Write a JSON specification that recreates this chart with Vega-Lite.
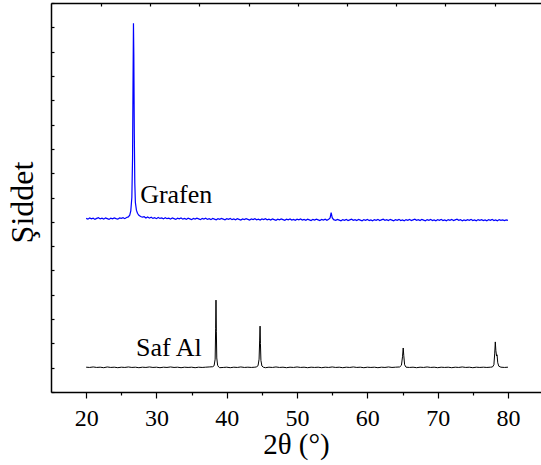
{
  "$schema": "https://vega.github.io/schema/vega-lite/v6.json",
  "width": 490,
  "height": 389,
  "autosize": {"type": "none"},
  "padding": {"left": 51, "top": 3, "right": 0, "bottom": 73},
  "config": {
    "view": {"stroke": null},
    "axis": {"domainColor": "#000000", "tickColor": "#000000", "domainWidth": 1.5, "tickWidth": 1.2, "grid": false, "labelColor": "#000000", "titleColor": "#000000", "titleFontWeight": "normal", "labelFontWeight": "normal", "labelFont": "Times New Roman", "titleFont": "Times New Roman"}
  },
  "datasets": {
    "grafen": [
      {"theta":20.0,"I":714},{"theta":20.25,"I":711},{"theta":20.5,"I":716},{"theta":20.75,"I":712},{"theta":21.0,"I":715},{"theta":21.25,"I":710},{"theta":21.5,"I":714},{"theta":21.75,"I":717},{"theta":22.0,"I":712},{"theta":22.25,"I":715},{"theta":22.5,"I":711},{"theta":22.75,"I":716},{"theta":23.0,"I":713},{"theta":23.25,"I":710},{"theta":23.5,"I":715},{"theta":23.75,"I":712},{"theta":24.0,"I":716},{"theta":24.25,"I":713},{"theta":24.5,"I":711},{"theta":24.75,"I":716},{"theta":25.0,"I":714},{"theta":25.25,"I":717},{"theta":25.5,"I":713},{"theta":25.75,"I":718},{"theta":26.0,"I":720},{"theta":26.2,"I":727},{"theta":26.35,"I":745},{"theta":26.5,"I":800},{"theta":26.6,"I":960},{"theta":26.67,"I":1280},{"theta":26.73,"I":1517},{"theta":26.78,"I":1390},{"theta":26.85,"I":1060},{"theta":26.92,"I":860},{"theta":27.0,"I":780},{"theta":27.15,"I":748},{"theta":27.3,"I":735},{"theta":27.5,"I":727},{"theta":27.75,"I":722},{"theta":28.0,"I":719},{"theta":28.25,"I":721},{"theta":28.5,"I":716},{"theta":28.75,"I":720},{"theta":29.0,"I":715},{"theta":29.25,"I":719},{"theta":29.5,"I":714},{"theta":29.75,"I":717},{"theta":30.0,"I":713},{"theta":30.25,"I":718},{"theta":30.5,"I":714},{"theta":30.75,"I":716},{"theta":31.0,"I":712},{"theta":31.25,"I":717},{"theta":31.5,"I":713},{"theta":31.75,"I":715},{"theta":32.0,"I":711},{"theta":32.25,"I":716},{"theta":32.5,"I":713},{"theta":32.75,"I":710},{"theta":33.0,"I":715},{"theta":33.25,"I":712},{"theta":33.5,"I":716},{"theta":33.75,"I":711},{"theta":34.0,"I":714},{"theta":34.25,"I":710},{"theta":34.5,"I":715},{"theta":34.75,"I":712},{"theta":35.0,"I":709},{"theta":35.25,"I":714},{"theta":35.5,"I":711},{"theta":35.75,"I":715},{"theta":36.0,"I":712},{"theta":36.25,"I":709},{"theta":36.5,"I":714},{"theta":36.75,"I":711},{"theta":37.0,"I":715},{"theta":37.25,"I":710},{"theta":37.5,"I":713},{"theta":37.75,"I":709},{"theta":38.0,"I":714},{"theta":38.25,"I":711},{"theta":38.5,"I":708},{"theta":38.75,"I":713},{"theta":39.0,"I":710},{"theta":39.25,"I":714},{"theta":39.5,"I":711},{"theta":39.75,"I":708},{"theta":40.0,"I":713},{"theta":40.25,"I":710},{"theta":40.5,"I":714},{"theta":40.75,"I":709},{"theta":41.0,"I":712},{"theta":41.25,"I":708},{"theta":41.5,"I":713},{"theta":41.75,"I":710},{"theta":42.0,"I":707},{"theta":42.25,"I":712},{"theta":42.5,"I":709},{"theta":42.75,"I":713},{"theta":43.0,"I":710},{"theta":43.25,"I":707},{"theta":43.5,"I":712},{"theta":43.75,"I":709},{"theta":44.0,"I":713},{"theta":44.25,"I":708},{"theta":44.5,"I":711},{"theta":44.75,"I":707},{"theta":45.0,"I":712},{"theta":45.25,"I":709},{"theta":45.5,"I":713},{"theta":45.75,"I":708},{"theta":46.0,"I":711},{"theta":46.25,"I":707},{"theta":46.5,"I":712},{"theta":46.75,"I":709},{"theta":47.0,"I":706},{"theta":47.25,"I":711},{"theta":47.5,"I":708},{"theta":47.75,"I":712},{"theta":48.0,"I":709},{"theta":48.25,"I":706},{"theta":48.5,"I":711},{"theta":48.75,"I":708},{"theta":49.0,"I":712},{"theta":49.25,"I":707},{"theta":49.5,"I":710},{"theta":49.75,"I":706},{"theta":50.0,"I":711},{"theta":50.25,"I":708},{"theta":50.5,"I":712},{"theta":50.75,"I":707},{"theta":51.0,"I":710},{"theta":51.25,"I":706},{"theta":51.5,"I":711},{"theta":51.75,"I":708},{"theta":52.0,"I":705},{"theta":52.25,"I":710},{"theta":52.5,"I":707},{"theta":52.75,"I":711},{"theta":53.0,"I":708},{"theta":53.25,"I":705},{"theta":53.5,"I":710},{"theta":53.75,"I":707},{"theta":54.0,"I":711},{"theta":54.25,"I":706},{"theta":54.5,"I":710},{"theta":54.7,"I":716},{"theta":54.85,"I":738},{"theta":55.0,"I":717},{"theta":55.2,"I":709},{"theta":55.5,"I":706},{"theta":55.75,"I":710},{"theta":56.0,"I":707},{"theta":56.25,"I":704},{"theta":56.5,"I":709},{"theta":56.75,"I":706},{"theta":57.0,"I":710},{"theta":57.25,"I":705},{"theta":57.5,"I":708},{"theta":57.75,"I":711},{"theta":58.0,"I":706},{"theta":58.25,"I":709},{"theta":58.5,"I":705},{"theta":58.75,"I":710},{"theta":59.0,"I":707},{"theta":59.25,"I":704},{"theta":59.5,"I":709},{"theta":59.75,"I":706},{"theta":60.0,"I":710},{"theta":60.25,"I":705},{"theta":60.5,"I":708},{"theta":60.75,"I":704},{"theta":61.0,"I":709},{"theta":61.25,"I":706},{"theta":61.5,"I":710},{"theta":61.75,"I":705},{"theta":62.0,"I":708},{"theta":62.25,"I":711},{"theta":62.5,"I":706},{"theta":62.75,"I":709},{"theta":63.0,"I":705},{"theta":63.25,"I":710},{"theta":63.5,"I":707},{"theta":63.75,"I":704},{"theta":64.0,"I":709},{"theta":64.25,"I":706},{"theta":64.5,"I":710},{"theta":64.75,"I":705},{"theta":65.0,"I":708},{"theta":65.25,"I":704},{"theta":65.5,"I":709},{"theta":65.75,"I":706},{"theta":66.0,"I":710},{"theta":66.25,"I":705},{"theta":66.5,"I":708},{"theta":66.75,"I":711},{"theta":67.0,"I":706},{"theta":67.25,"I":709},{"theta":67.5,"I":705},{"theta":67.75,"I":710},{"theta":68.0,"I":707},{"theta":68.25,"I":704},{"theta":68.5,"I":709},{"theta":68.75,"I":706},{"theta":69.0,"I":710},{"theta":69.25,"I":705},{"theta":69.5,"I":708},{"theta":69.75,"I":704},{"theta":70.0,"I":709},{"theta":70.25,"I":706},{"theta":70.5,"I":710},{"theta":70.75,"I":705},{"theta":71.0,"I":708},{"theta":71.25,"I":704},{"theta":71.5,"I":709},{"theta":71.75,"I":706},{"theta":72.0,"I":710},{"theta":72.25,"I":705},{"theta":72.5,"I":708},{"theta":72.75,"I":711},{"theta":73.0,"I":706},{"theta":73.25,"I":709},{"theta":73.5,"I":704},{"theta":73.75,"I":708},{"theta":74.0,"I":705},{"theta":74.25,"I":709},{"theta":74.5,"I":706},{"theta":74.75,"I":710},{"theta":75.0,"I":705},{"theta":75.25,"I":708},{"theta":75.5,"I":704},{"theta":75.75,"I":709},{"theta":76.0,"I":706},{"theta":76.25,"I":709},{"theta":76.5,"I":705},{"theta":76.75,"I":708},{"theta":77.0,"I":704},{"theta":77.25,"I":709},{"theta":77.5,"I":706},{"theta":77.75,"I":710},{"theta":78.0,"I":705},{"theta":78.25,"I":708},{"theta":78.5,"I":704},{"theta":78.75,"I":709},{"theta":79.0,"I":706},{"theta":79.25,"I":708},{"theta":79.5,"I":705},{"theta":79.75,"I":708},{"theta":80.0,"I":706}
    ],
    "al": [
      {"theta":20.0,"I":102},{"theta":20.5,"I":101},{"theta":21.0,"I":103},{"theta":21.5,"I":101},{"theta":22.0,"I":102},{"theta":22.5,"I":100},{"theta":23.0,"I":103},{"theta":23.5,"I":101},{"theta":24.0,"I":102},{"theta":24.5,"I":100},{"theta":25.0,"I":102},{"theta":25.5,"I":101},{"theta":26.0,"I":103},{"theta":26.5,"I":101},{"theta":27.0,"I":102},{"theta":27.5,"I":100},{"theta":28.0,"I":102},{"theta":28.5,"I":101},{"theta":29.0,"I":103},{"theta":29.5,"I":101},{"theta":30.0,"I":102},{"theta":30.5,"I":100},{"theta":31.0,"I":102},{"theta":31.5,"I":101},{"theta":32.0,"I":103},{"theta":32.5,"I":101},{"theta":33.0,"I":102},{"theta":33.5,"I":100},{"theta":34.0,"I":102},{"theta":34.5,"I":101},{"theta":35.0,"I":102},{"theta":35.5,"I":100},{"theta":36.0,"I":102},{"theta":36.5,"I":101},{"theta":37.0,"I":102},{"theta":37.5,"I":103},{"theta":38.0,"I":104},{"theta":38.2,"I":108},{"theta":38.35,"I":135},{"theta":38.42,"I":260},{"theta":38.47,"I":378},{"theta":38.52,"I":250},{"theta":38.58,"I":140},{"theta":38.7,"I":110},{"theta":38.85,"I":103},{"theta":39.0,"I":100},{"theta":39.5,"I":101},{"theta":40.0,"I":102},{"theta":40.5,"I":100},{"theta":41.0,"I":102},{"theta":41.5,"I":101},{"theta":42.0,"I":103},{"theta":42.5,"I":101},{"theta":43.0,"I":102},{"theta":43.5,"I":101},{"theta":44.0,"I":102},{"theta":44.2,"I":103},{"theta":44.45,"I":108},{"theta":44.6,"I":135},{"theta":44.68,"I":210},{"theta":44.74,"I":271},{"theta":44.79,"I":200},{"theta":44.86,"I":130},{"theta":45.0,"I":107},{"theta":45.2,"I":102},{"theta":45.5,"I":100},{"theta":46.0,"I":102},{"theta":46.5,"I":101},{"theta":47.0,"I":103},{"theta":47.5,"I":101},{"theta":48.0,"I":102},{"theta":48.5,"I":100},{"theta":49.0,"I":102},{"theta":49.5,"I":101},{"theta":50.0,"I":103},{"theta":50.5,"I":101},{"theta":51.0,"I":102},{"theta":51.5,"I":100},{"theta":52.0,"I":102},{"theta":52.5,"I":101},{"theta":53.0,"I":102},{"theta":53.5,"I":100},{"theta":54.0,"I":102},{"theta":54.5,"I":101},{"theta":55.0,"I":103},{"theta":55.5,"I":101},{"theta":56.0,"I":102},{"theta":56.5,"I":100},{"theta":57.0,"I":102},{"theta":57.5,"I":101},{"theta":58.0,"I":103},{"theta":58.5,"I":101},{"theta":59.0,"I":102},{"theta":59.5,"I":100},{"theta":60.0,"I":102},{"theta":60.5,"I":101},{"theta":61.0,"I":102},{"theta":61.5,"I":100},{"theta":62.0,"I":102},{"theta":62.5,"I":101},{"theta":63.0,"I":103},{"theta":63.5,"I":101},{"theta":64.0,"I":102},{"theta":64.6,"I":103},{"theta":64.85,"I":110},{"theta":65.0,"I":145},{"theta":65.1,"I":181},{"theta":65.18,"I":150},{"theta":65.3,"I":112},{"theta":65.5,"I":102},{"theta":66.0,"I":101},{"theta":66.5,"I":102},{"theta":67.0,"I":100},{"theta":67.5,"I":102},{"theta":68.0,"I":101},{"theta":68.5,"I":103},{"theta":69.0,"I":101},{"theta":69.5,"I":102},{"theta":70.0,"I":100},{"theta":70.5,"I":102},{"theta":71.0,"I":101},{"theta":71.5,"I":102},{"theta":72.0,"I":100},{"theta":72.5,"I":102},{"theta":73.0,"I":101},{"theta":73.5,"I":103},{"theta":74.0,"I":101},{"theta":74.5,"I":102},{"theta":75.0,"I":100},{"theta":75.5,"I":102},{"theta":76.0,"I":101},{"theta":76.5,"I":102},{"theta":77.0,"I":101},{"theta":77.5,"I":102},{"theta":77.8,"I":103},{"theta":78.0,"I":112},{"theta":78.12,"I":160},{"theta":78.2,"I":206},{"theta":78.28,"I":170},{"theta":78.38,"I":148},{"theta":78.45,"I":153},{"theta":78.55,"I":120},{"theta":78.7,"I":106},{"theta":79.0,"I":102},{"theta":79.5,"I":101},{"theta":80.0,"I":102}
    ],
    "labels": [
      {"theta": 27.68, "I": 777, "label": "Grafen"},
      {"theta": 27.1, "I": 148, "label": "Saf Al"}
    ]
  },
  "resolve": {"axis": {"x": "independent", "y": "independent"}},
  "layer": [
    {
      "data": {"name": "grafen"},
      "mark": {"type": "line", "color": "#0000FF", "strokeWidth": 1.2, "clip": true},
      "encoding": {
        "x": {
          "field": "theta", "type": "quantitative",
          "scale": {"domain": [15, 84.7], "nice": false, "zero": false},
          "axis": {
            "orient": "bottom",
            "values": [20, 25, 30, 35, 40, 45, 50, 55, 60, 65, 70, 75, 80],
            "tickSize": {"condition": {"test": "datum.value % 10 === 0", "value": 6}, "value": 3},
            "labelExpr": "datum.value % 10 === 0 ? datum.label : ''",
            "labelFont": "Times New Roman", "labelFontSize": 24,
            "labelBaseline": "alphabetic", "labelPadding": 27,
            "labelFlush": false, "labelOverlap": false,
            "title": "2θ (°)", "titleFont": "Times New Roman", "titleFontSize": 29,
            "titleBaseline": "alphabetic", "titleY": 61
          }
        },
        "y": {
          "field": "I", "type": "quantitative",
          "scale": {"domain": [0, 1600], "nice": false, "zero": false},
          "axis": {
            "orient": "left",
            "values": [0, 100, 200, 300, 400, 500, 600, 700, 800, 900, 1000, 1100, 1200, 1300, 1400, 1500, 1600],
            "tickSize": -3, "labels": false,
            "title": "Şiddet", "titleFont": "Times New Roman", "titleFontSize": 32,
            "titleAngle": 270, "titleBaseline": "alphabetic", "titleAlign": "center",
            "titleX": -19, "titleY": 199
          }
        }
      }
    },
    {
      "data": {"name": "al"},
      "mark": {"type": "line", "color": "#000000", "strokeWidth": 1, "clip": true},
      "encoding": {
        "x": {"field": "theta", "type": "quantitative", "axis": null},
        "y": {"field": "I", "type": "quantitative", "axis": null}
      }
    },
    {
      "data": {"name": "labels"},
      "mark": {"type": "text", "align": "left", "baseline": "alphabetic", "font": "Times New Roman", "fontWeight": "normal", "fontSize": 26, "color": "#000000"},
      "encoding": {
        "x": {
          "field": "theta", "type": "quantitative",
          "axis": {
            "orient": "top",
            "values": [22.1, 29.1, 36.1, 43.1, 50.1, 57.1, 64.1, 71.1, 78.1],
            "tickSize": -3, "labels": false, "title": null
          }
        },
        "y": {"field": "I", "type": "quantitative", "axis": null},
        "text": {"field": "label"}
      }
    }
  ]
}
